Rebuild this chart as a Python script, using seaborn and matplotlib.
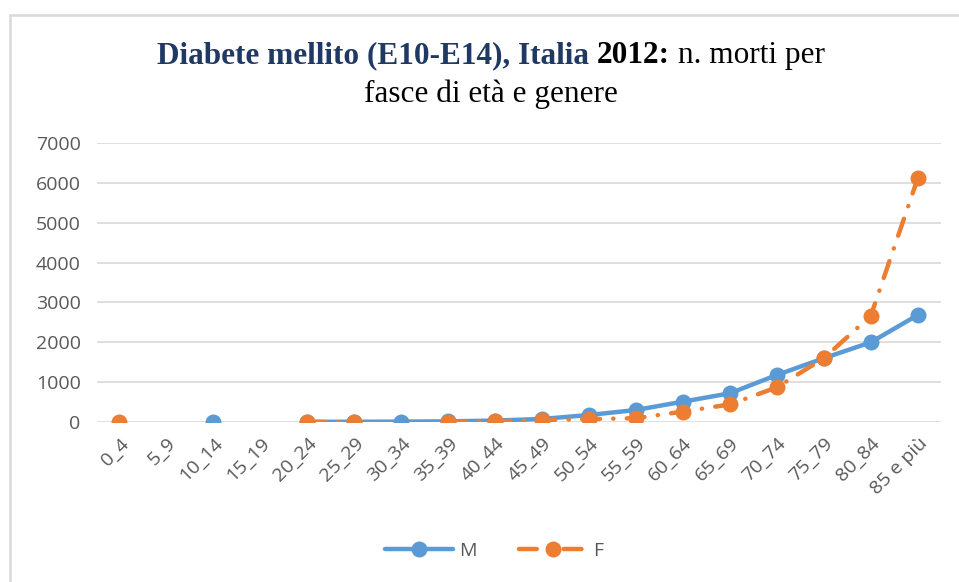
import numpy as np
import pandas as pd
import matplotlib.pyplot as plt
import seaborn as sns
from matplotlib.lines import Line2D

# age bands and deaths
age_bands = ['0_4', '5_9', '10_14', '15_19', '20_24', '25_29', '30_34', '35_39',
             '40_44', '45_49', '50_54', '55_59', '60_64', '65_69', '70_74',
             '75_79', '80_84', '85 e più']
deaths_m = [np.nan, np.nan, 0, np.nan, 3, 5, 8, 15, 35, 75, 175, 300, 510, 720,
            1180, 1600, 2000, 2685]
deaths_f = [0, np.nan, np.nan, np.nan, 0, 2, np.nan, 5, 15, 45, 70, 95, 260, 440,
            870, 1600, 2665, 6120]
y_ticks = [0, 1000, 2000, 3000, 4000, 5000, 6000, 7000]

BLUE = '#5B9BD5'
ORANGE = '#ED7D31'
GREY_TXT = '#595959'
F_DASH = (4.0, 3.0, 0.05, 3.0)


def to_long(values, label):
    # split the series into runs without gaps so that lines break at missing values
    rows, seg = [], 0
    for i, v in enumerate(values):
        if np.isnan(v):
            seg += 1
            continue
        rows.append({'pos': i, 'val': v, 'sex': label, 'seg': f'{label}{seg}'})
    return pd.DataFrame(rows)


df = pd.concat([to_long(deaths_m, 'M'), to_long(deaths_f, 'F')], ignore_index=True)

sns.set_style('white')
plt.rcParams['font.family'] = ['Open Sans', 'DejaVu Sans']

fig = plt.figure(figsize=(9.59, 5.82), dpi=100)
ax = fig.add_axes([0.1015, 0.275, 0.880, 0.479])

sns.lineplot(data=df, x='pos', y='val', hue='sex', style='sex', units='seg',
             estimator=None, palette={'M': BLUE, 'F': ORANGE},
             dashes={'M': '', 'F': F_DASH},
             markers={'M': 'o', 'F': 'o'}, markersize=11.5, markeredgewidth=0,
             linewidth=3.2, legend=False, ax=ax, zorder=3)
for ln in ax.get_lines():
    ln.set_dash_capstyle('round')
    ln.set_solid_capstyle('round')

ax.set_xlim(-0.47, len(age_bands) - 0.5)
ax.set_ylim(0, 7000)
ax.set_yticks(y_ticks)
ax.set_yticklabels([str(t) for t in y_ticks], fontsize=14, color=GREY_TXT)
ax.set_xticks(range(len(age_bands)))
ax.set_xticklabels(age_bands, rotation=45, ha='right', rotation_mode='anchor',
                   fontsize=14, color=GREY_TXT)
ax.tick_params(axis='y', length=0, pad=12)
ax.tick_params(axis='x', length=0, pad=9)
ax.set_xlabel('')
ax.set_ylabel('')
ax.grid(axis='y', color='#D9D9D9', linewidth=1.2, zorder=0)
ax.set_axisbelow(True)
for s in ax.spines.values():
    s.set_visible(False)

# legend
handles = [
    Line2D([], [], color=BLUE, lw=3.2, marker='o', markersize=11.5, markeredgewidth=0),
    Line2D([], [], color=ORANGE, lw=3.2, marker='o', markersize=11.5, markeredgewidth=0,
           dashes=F_DASH, dash_capstyle='round'),
]
leg = fig.legend(handles, ['M', 'F'], loc='center', bbox_to_anchor=(0.515, 0.053),
                 ncol=2, frameon=False, fontsize=14, handlelength=3.5,
                 columnspacing=2.2, handletextpad=0.3)
for t in leg.get_texts():
    t.set_color(GREY_TXT)

# outer chart border (top and left visible)
fig.add_artist(plt.Line2D([0.0105, 1.0], [0.975, 0.975], transform=fig.transFigure,
                          color='#D9D9D9', lw=1.8))
fig.add_artist(plt.Line2D([0.0105, 0.0105], [0.0, 0.975], transform=fig.transFigure,
                          color='#D9D9D9', lw=1.8))

# title with mixed styles
serif = ['Liberation Serif', 'DejaVu Serif']
pieces = [
    ('Diabete mellito (E10-E14), Italia ', 'bold', '#1F3864'),
    ('2012:', 'bold', 'black'),
    (' n. morti per', 'normal', 'black'),
]
fig.canvas.draw()
renderer = fig.canvas.get_renderer()
texts = []
for s, w, c in pieces:
    t = fig.text(0, 0.905, s, fontsize=22.5, fontweight=w, color=c,
                 family=serif, va='center', ha='left')
    texts.append(t)
widths = [t.get_window_extent(renderer).width for t in texts]
total = sum(widths)
x0 = 491 - total / 2
for t, w in zip(texts, widths):
    t.set_x(x0 / fig.bbox.width)
    x0 += w
fig.text(491 / 959, 0.838, 'fasce di età e genere', fontsize=22.5, color='black',
         family=serif, va='center', ha='center')

fig.savefig('out.png', dpi=100)
